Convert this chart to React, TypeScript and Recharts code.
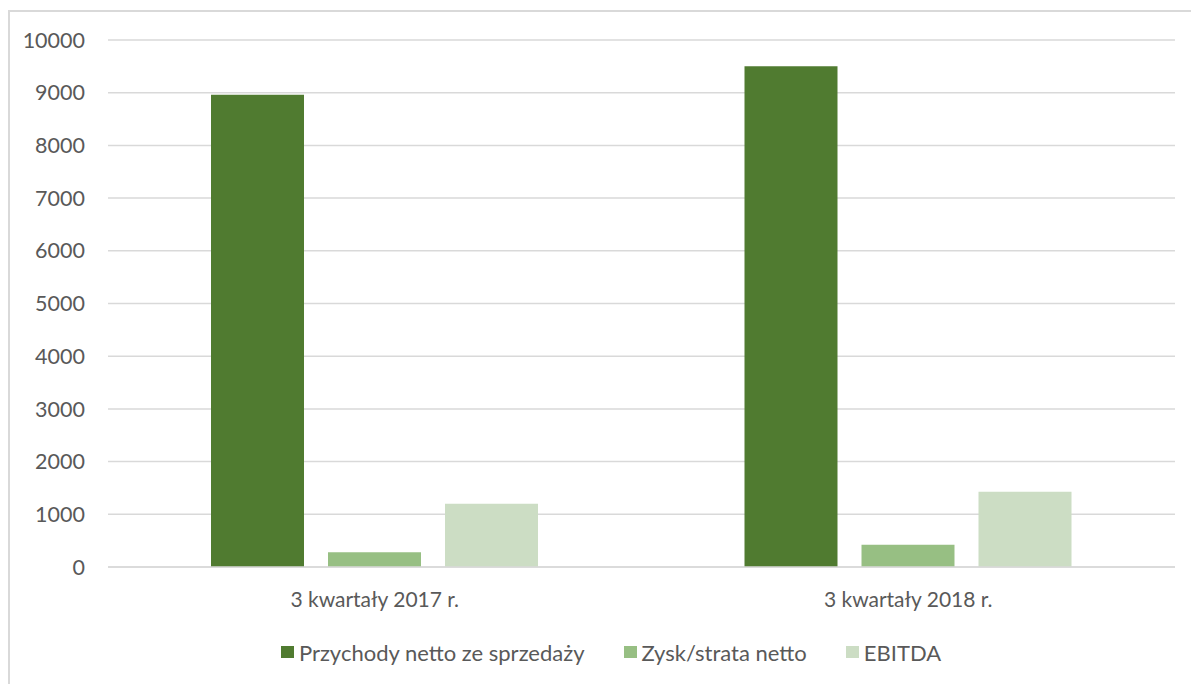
import { Bar, BarChart, CartesianGrid, Legend, XAxis, YAxis } from 'recharts';

const categories = ['3 kwartały 2017 r.', '3 kwartały 2018 r.'];
const przychody = [8960, 9500];
const zysk = [280, 420];
const ebitda = [1200, 1430];
const yTicks = [0, 1000, 2000, 3000, 4000, 5000, 6000, 7000, 8000, 9000, 10000];

const seriesNames = ['Przychody netto ze sprzedaży', 'Zysk/strata netto', 'EBITDA'];

const data = categories.map((name, i) => ({
  name,
  przychody: przychody[i],
  zysk: zysk[i],
  ebitda: ebitda[i],
}));

const FONT = 'Lato, "Open Sans", sans-serif';
const TEXT = '#595959';

function ChartLegend({ payload }: any) {
  // keep the series order, not the alphabetical one
  const items = [...(payload || [])].sort((a: any, b: any) => seriesNames.indexOf(a.value) - seriesNames.indexOf(b.value));
  return (
    <div style={{ display: 'flex', justifyContent: 'center', alignItems: 'center', height: 40, paddingLeft: 37, fontFamily: FONT, fontSize: 22, color: TEXT }}>
      {items.map((entry: any, i: number) => (
        <div key={i} style={{ display: 'flex', alignItems: 'center', marginLeft: i === 0 ? 0 : 39 }}>
          <span style={{ display: 'inline-block', width: 13, height: 12, background: entry.color, marginRight: 5 }} />
          <span>{entry.value}</span>
        </div>
      ))}
    </div>
  )
}

export default function App() {
  return (
    <div style={{ position: 'fixed', left: 8, top: 10, borderLeft: '2px solid #d9d9d9', borderTop: '2px solid #d9d9d9', background: '#fff' }}>
      <BarChart width={1181} height={672} data={data} margin={{ top: 28, right: 16, left: 0, bottom: 12 }} barSize={93} barGap={24}>
        <CartesianGrid vertical={false} stroke="#d9d9d9" strokeWidth={1.5} />
        <XAxis dataKey="name" height={65} axisLine={{ stroke: '#d9d9d9', strokeWidth: 1.5 }} tickLine={false} tickSize={0} tickMargin={25}
          tick={{ fill: TEXT, fontSize: 21, fontFamily: FONT }} />
        <YAxis width={98} domain={[0, 10000]} ticks={yTicks} axisLine={false} tickLine={false} tickSize={0} tickMargin={23}
          tick={{ fill: TEXT, fontSize: 21.5, fontFamily: FONT }} />
        <Legend verticalAlign="bottom" height={40} content={<ChartLegend />} />
        <Bar dataKey="przychody" name={seriesNames[0]} fill="#507b30" isAnimationActive={false} />
        <Bar dataKey="zysk" name={seriesNames[1]} fill="#97bf83" isAnimationActive={false} />
        <Bar dataKey="ebitda" name={seriesNames[2]} fill="#ccddc4" isAnimationActive={false} />
      </BarChart>
    </div>
  )
}
